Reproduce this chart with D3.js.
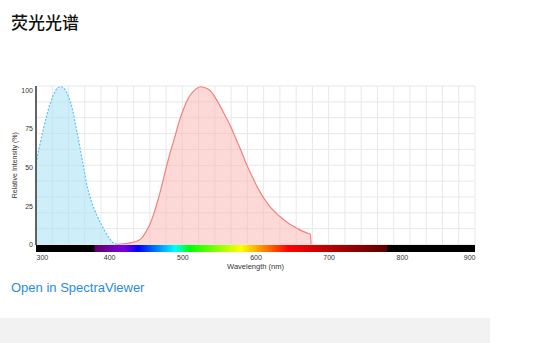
<!DOCTYPE html>
<html>
<head>
<meta charset="utf-8">
<script src="https://cdn.jsdelivr.net/npm/d3@7"></script>
<style>
  body { margin: 0; background: #fff; }
  svg { display: block; }
</style>
</head>
<body>
<svg id="chart" width="546" height="343"></svg>
<script>
// excitation spectrum (wavelength nm / relative %)
var exWl = [300, 305, 310, 315, 320, 325, 330, 335, 340, 345, 350, 355, 360, 365, 370, 375, 380, 385, 390, 395, 400, 405, 410, 415];
var exVal = [52.5, 64, 74.5, 84, 92, 98, 101.5, 102, 100, 95, 87, 75, 63, 50, 37.5, 29, 22.5, 17, 12.5, 7.8, 4.2, 1.3, 0.3, 0];

// emission spectrum
var emWl = [410, 420, 430, 440, 445, 450, 455, 460, 465, 470, 475, 480, 485, 490, 495, 500, 505, 510, 515, 520, 525, 530, 535, 540, 545, 550, 555, 560, 565, 570, 575, 580, 585, 590, 595, 600, 605, 610, 615, 620, 625, 630, 635, 640, 645, 650, 655, 660, 665, 670, 675, 676];
var emVal = [0, 0.4, 1.2, 2.6, 4.5, 8, 12.5, 18.5, 26, 34.5, 44, 53.5, 62, 70, 78.5, 85.5, 91.5, 96, 99, 101, 102, 101.5, 100.5, 98.5, 95, 91, 86.5, 82, 77.5, 72, 66.5, 61, 55, 49.5, 44.5, 39.5, 35, 31, 27.5, 24.3, 21.8, 19.5, 17.5, 15.5, 13.8, 12.3, 11, 9.6, 8.5, 7.5, 6.6, 0];

var xTicks = [300, 400, 500, 600, 700, 800, 900];
var yTicks = [0, 25, 50, 75, 100];

// visible spectrum colour bar
var barWl = [380, 420, 440, 490, 510, 580, 645, 780];
var barColor = ["#5e0068", "#7a00e0", "#0000ff", "#00ffff", "#00ff00", "#ffff00", "#ff0000", "#5a0000"];

var svg = d3.select("#chart");
var pLeft = 36, pRight = 475, pTop = 86, pBottom = 244.5;

var x = d3.scaleLinear().domain([300, 900]).range([pLeft, pRight]);
var y = d3.scaleLinear().domain([0, 102.5]).range([pBottom, pTop]);

svg.append("text")
    .attr("x", 11)
    .attr("y", 29)
    .style("font-family", "'Noto Sans CJK SC', sans-serif")
    .style("font-size", "17px")
    .style("font-weight", 500)
    .style("fill", "#111")
    .text("荧光光谱");

// grid
var grid = svg.append("g").attr("class", "grid");
var xDiv = 27, yDiv = 10;
grid.selectAll("line.v")
    .data(d3.range(xDiv + 1))
    .enter().append("line")
    .attr("class", "v")
    .attr("x1", function (i) { return x(300 + i * 600 / xDiv); })
    .attr("x2", function (i) { return x(300 + i * 600 / xDiv); })
    .attr("y1", pTop)
    .attr("y2", pBottom)
    .style("stroke", "#e8e8e8")
    .style("stroke-width", 1);
grid.selectAll("line.h")
    .data(d3.range(yDiv + 1))
    .enter().append("line")
    .attr("class", "h")
    .attr("x1", pLeft)
    .attr("x2", pRight)
    .attr("y1", function (i) { return y(i * 102.5 / yDiv); })
    .attr("y2", function (i) { return y(i * 102.5 / yDiv); })
    .style("stroke", "#e8e8e8")
    .style("stroke-width", 1);

svg.append("clipPath").attr("id", "plotclip")
    .append("rect")
    .attr("x", pLeft).attr("y", pTop - 2)
    .attr("width", pRight - pLeft).attr("height", pBottom - pTop + 2);

var plot = svg.append("g").attr("clip-path", "url(#plotclip)");

function series(wl, val) {
    return wl.map(function (w, i) { return { w: w, v: val[i] }; });
}
var ex = series(exWl, exVal);
var em = series(emWl, emVal);

var area = d3.area()
    .x(function (d) { return x(d.w); })
    .y0(y(0))
    .y1(function (d) { return y(d.v); })
    .curve(d3.curveMonotoneX);
var line = d3.line()
    .x(function (d) { return x(d.w); })
    .y(function (d) { return y(d.v); })
    .curve(d3.curveMonotoneX);

plot.append("path")
    .attr("d", area(ex))
    .style("fill", "#aee3f7")
    .style("fill-opacity", 0.6);
plot.append("path")
    .attr("d", line(ex))
    .style("fill", "none")
    .style("stroke", "#5ec4ef")
    .style("stroke-width", 1.2)
    .style("stroke-dasharray", "2,1.6");

plot.append("path")
    .attr("d", area(em))
    .style("fill", "#f9b4b0")
    .style("fill-opacity", 0.5);
plot.append("path")
    .attr("d", line(em))
    .style("fill", "none")
    .style("stroke", "#f0837c")
    .style("stroke-width", 1.2);

// colour bar
var grad = svg.append("defs").append("linearGradient")
    .attr("id", "spectrum")
    .attr("gradientUnits", "userSpaceOnUse")
    .attr("x1", x(380)).attr("x2", x(780))
    .attr("y1", 0).attr("y2", 0);
barWl.forEach(function (w, i) {
    grad.append("stop")
        .attr("offset", (w - 380) / 400)
        .attr("stop-color", barColor[i]);
});

svg.append("rect")
    .attr("x", pLeft)
    .attr("y", pBottom + 0.5)
    .attr("width", pRight - pLeft)
    .attr("height", 7)
    .style("fill", "#000");
svg.append("rect")
    .attr("x", x(380))
    .attr("y", pBottom + 0.5)
    .attr("width", x(780) - x(380))
    .attr("height", 7)
    .style("fill", "url(#spectrum)");

// y axis line
svg.append("line")
    .attr("x1", pLeft).attr("x2", pLeft)
    .attr("y1", pTop).attr("y2", pBottom + 0.5)
    .style("stroke", "#333")
    .style("stroke-width", 1.5);

var yAxis = svg.append("g")
    .attr("transform", "translate(" + (pLeft - 3) + ",0)")
    .call(d3.axisLeft(y).tickValues(yTicks).tickSize(0).tickPadding(0));
yAxis.select(".domain").remove();
yAxis.selectAll("text")
    .style("font-family", "'Liberation Sans', Arial, sans-serif")
    .style("font-size", "7px")
    .style("fill", "#333");

var xAxis = svg.append("g")
    .attr("transform", "translate(0," + (pBottom + 8) + ")")
    .call(d3.axisBottom(x).tickValues(xTicks).tickSize(0).tickPadding(3));
xAxis.select(".domain").remove();
xAxis.selectAll("text")
    .style("font-family", "'Liberation Sans', Arial, sans-serif")
    .style("font-size", "7px")
    .style("fill", "#333")
    .attr("text-anchor", function (d, i) {
        return i === 0 ? "start" : (i === xTicks.length - 1 ? "end" : "middle");
    });

svg.append("text")
    .attr("x", x(600))
    .attr("y", 269)
    .attr("text-anchor", "middle")
    .style("font-family", "'Liberation Sans', Arial, sans-serif")
    .style("font-size", "7.5px")
    .style("fill", "#333")
    .text("Wavelength (nm)");

svg.append("text")
    .attr("transform", "translate(17," + ((pTop + pBottom) / 2) + ") rotate(-90)")
    .attr("text-anchor", "middle")
    .style("font-family", "'Liberation Sans', Arial, sans-serif")
    .style("font-size", "7px")
    .style("fill", "#333")
    .text("Relative Intensity (%)");

svg.append("text")
    .attr("x", 11)
    .attr("y", 292)
    .style("font-family", "'Liberation Sans', Arial, sans-serif")
    .style("font-size", "13px")
    .style("fill", "#2a8be2")
    .text("Open in SpectraViewer");

svg.append("rect")
    .attr("x", 0)
    .attr("y", 318)
    .attr("width", 490)
    .attr("height", 25)
    .style("fill", "#f2f2f2");
</script>
</body>
</html>
